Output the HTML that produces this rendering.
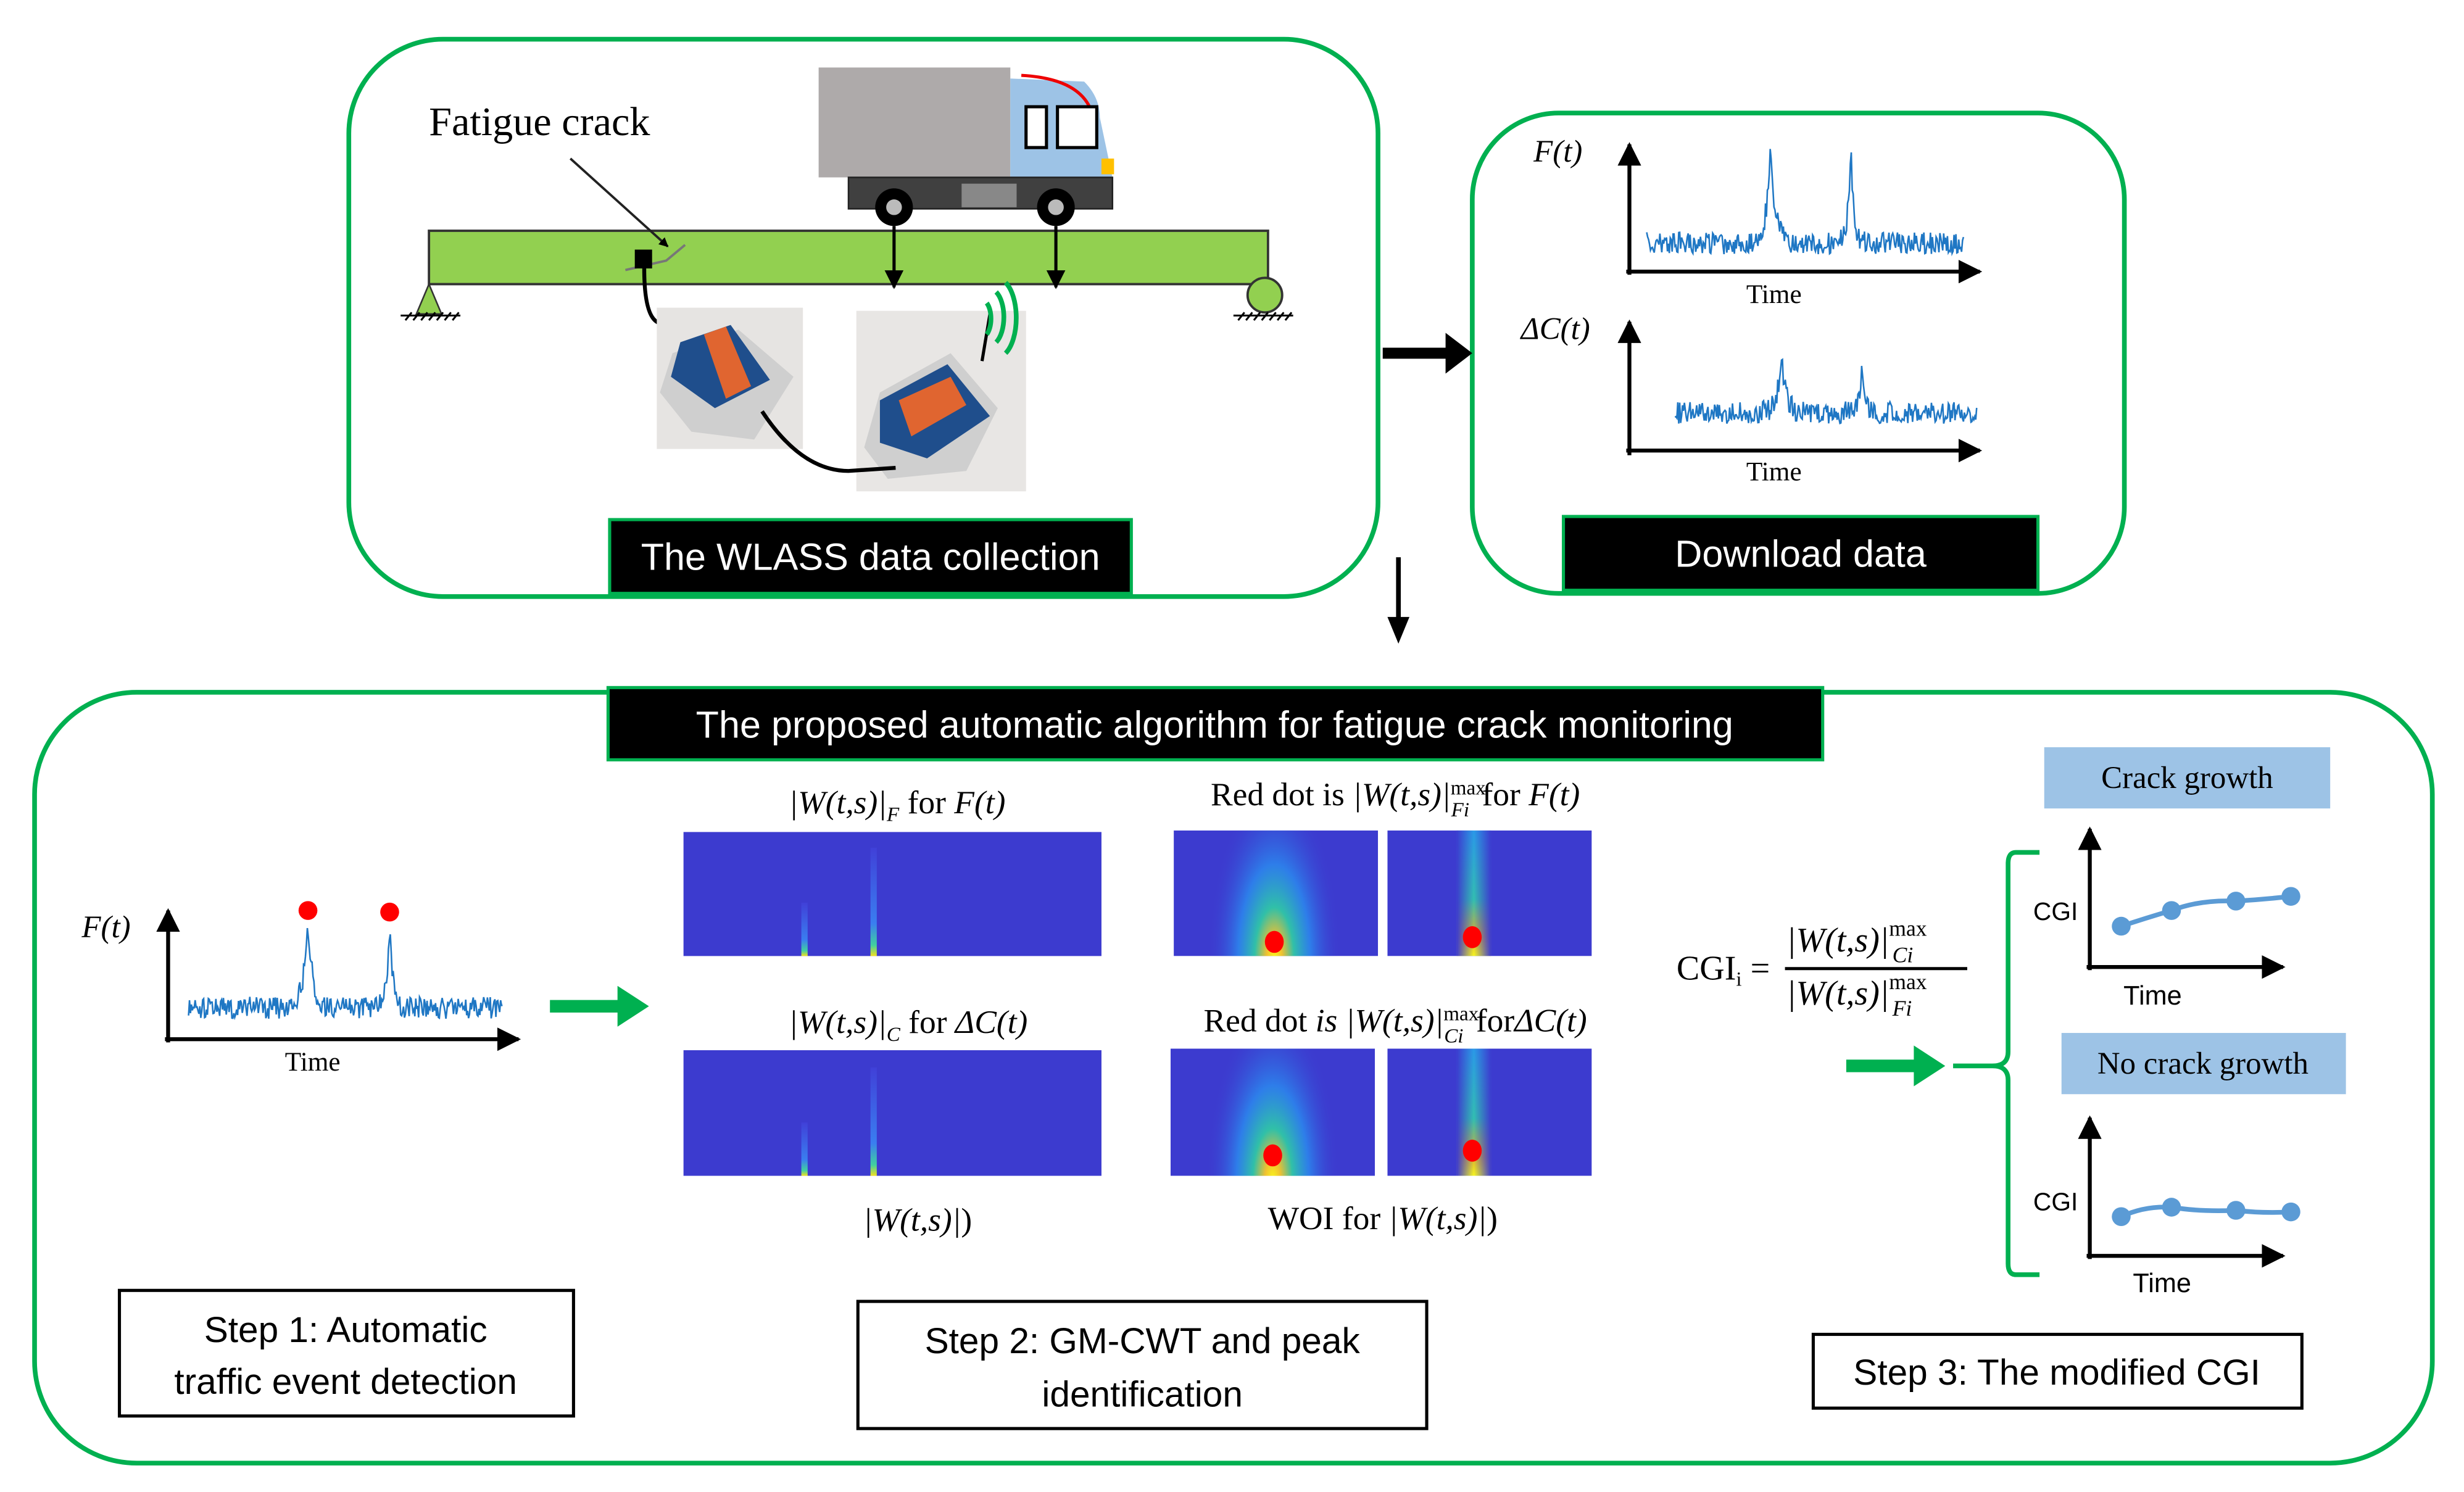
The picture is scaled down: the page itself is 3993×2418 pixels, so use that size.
<!DOCTYPE html>
<html><head><meta charset="utf-8"><style>
html,body{margin:0;padding:0;background:#fff;}
svg{display:block;}
.s{font-family:"Liberation Serif",serif;}
.a{font-family:"Liberation Sans",sans-serif;}
</style></head><body>
<svg id="g" width="3993" height="2418" viewBox="0 0 1560 945" preserveAspectRatio="none" xmlns="http://www.w3.org/2000/svg">
<defs>
<marker id="ah" viewBox="0 0 10 10" refX="9" refY="5" markerWidth="6" markerHeight="6" orient="auto"><path d="M0,0L10,5L0,10z" fill="#000"/></marker>
<marker id="ah2" viewBox="0 0 10 10" refX="9" refY="5" markerWidth="4" markerHeight="4" orient="auto"><path d="M0,0L10,5L0,10z" fill="#000"/></marker>
<radialGradient id="plume" cx="0.5" cy="0.5" r="0.5">
<stop offset="0" stop-color="#f9f81c"/><stop offset="0.12" stop-color="#f0c030"/><stop offset="0.3" stop-color="#30c0a8"/><stop offset="0.55" stop-color="#2a8ef0" stop-opacity="0.8"/><stop offset="1" stop-color="#3c3bcf" stop-opacity="0"/>
</radialGradient>
<linearGradient id="col" x1="0" y1="0" x2="0" y2="1">
<stop offset="0" stop-color="#2a9ae8"/><stop offset="0.55" stop-color="#32c0b0"/><stop offset="0.85" stop-color="#d8b030"/><stop offset="1" stop-color="#f9f81c"/>
</linearGradient>
<linearGradient id="colh" x1="0" y1="0" x2="1" y2="0">
<stop offset="0" stop-color="#3c3bcf" stop-opacity="1"/><stop offset="0.5" stop-color="#3c3bcf" stop-opacity="0"/><stop offset="1" stop-color="#3c3bcf" stop-opacity="1"/>
</linearGradient>
<linearGradient id="thin" x1="0" y1="0" x2="0" y2="1">
<stop offset="0" stop-color="#4040d8"/><stop offset="0.7" stop-color="#3a7ef0"/><stop offset="0.9" stop-color="#40d0a0"/><stop offset="1" stop-color="#f0e020"/>
</linearGradient>
</defs>
<g transform="scale(0.9948,0.9943)">
<rect x="222" y="25" width="655" height="355" rx="60" fill="none" stroke="#00b050" stroke-width="3"/>
<rect x="937" y="72" width="415" height="306" rx="55" fill="none" stroke="#00b050" stroke-width="3"/>
<rect x="22" y="441" width="1526" height="491" rx="65" fill="none" stroke="#00b050" stroke-width="3"/>

<!-- truck -->
<rect x="521" y="43" width="122" height="70" fill="#aeaaaa"/>
<path d="M643,50 L690,52 Q700,62 700,75 L708,113 L643,113Z" fill="#9dc3e6"/>
<path d="M650,48 Q688,50 695,72" fill="none" stroke="#e00" stroke-width="2"/>
<rect x="653" y="68" width="13" height="26" fill="#fff" stroke="#000" stroke-width="2"/>
<rect x="673" y="68" width="25" height="26" fill="#fff" stroke="#000" stroke-width="2"/>
<rect x="701" y="101" width="8" height="10" fill="#ffc000"/>
<rect x="540" y="113" width="168" height="20" fill="#404040" stroke="#222"/>
<rect x="612" y="117" width="35" height="15" fill="#888"/>
<circle cx="569" cy="132" r="12" fill="#000"/><circle cx="569" cy="132" r="5" fill="#bbb"/>
<circle cx="672" cy="132" r="12" fill="#000"/><circle cx="672" cy="132" r="5" fill="#bbb"/>

<!-- beam -->
<rect x="273" y="147" width="534" height="34" fill="#92d050" stroke="#333" stroke-width="1.5"/>
<path d="M273,181 L265,200 L281,200Z" fill="#92d050" stroke="#333"/>
<path d="M258,204l4,-5M263,204l4,-5M268,204l4,-5M273,204l4,-5M278,204l4,-5M283,204l4,-5M288,204l4,-5M255,201h38" stroke="#000" stroke-width="1.2"/>
<circle cx="805" cy="188" r="11" fill="#92d050" stroke="#333" stroke-width="1.5"/>
<path d="M788,204l4,-5M793,204l4,-5M798,204l4,-5M803,204l4,-5M808,204l4,-5M813,204l4,-5M818,204l4,-5M785,201h38" stroke="#000" stroke-width="1.2"/>
<line x1="569" y1="144" x2="569" y2="183" stroke="#000" stroke-width="2" marker-end="url(#ah)"/>
<line x1="672" y1="144" x2="672" y2="183" stroke="#000" stroke-width="2" marker-end="url(#ah)"/>
<text x="273" y="86" class="s" font-size="26">Fatigue crack</text>
<line x1="363" y1="101" x2="425" y2="157" stroke="#222" stroke-width="1.5" marker-end="url(#ah2)"/>
<path d="M398,172 L424,166 L436,156" fill="none" stroke="#777" stroke-width="1.5"/>
<rect x="404" y="159" width="11" height="12" fill="#000"/>
<path d="M410,171 Q410,200 418,205 Q425,210 432,212" fill="none" stroke="#000" stroke-width="2.5"/>

<!-- sensor photos -->
<rect x="418" y="196" width="93" height="90" fill="#e6e4e2"/>
<path d="M428,225 L470,210 L505,240 L480,280 L440,275 L420,250Z" fill="#cfcfcf"/>
<path d="M433,218 L465,207 L490,242 L455,260 L427,240Z" fill="#1f4e8c"/>
<path d="M448,213 L462,208 L478,246 L462,254Z" fill="#e06530"/>
<rect x="545" y="198" width="108" height="115" fill="#e8e6e4"/>
<path d="M560,250 L605,225 L635,260 L615,300 L565,305 L550,285Z" fill="#cfcfcf"/>
<path d="M560,255 L603,232 L630,265 L590,292 L560,282Z" fill="#1f4e8c"/>
<path d="M572,255 L605,240 L615,258 L580,278Z" fill="#e06530"/>
<path d="M485,262 Q510,300 540,300 L570,298" fill="none" stroke="#000" stroke-width="2.5"/>
<line x1="625" y1="230" x2="630" y2="200" stroke="#000" stroke-width="2"/>
<path d="M628,193 a6,12 0 0 1 0,20M634,186 a9,18 0 0 1 0,32M640,180 a12,25 0 0 1 0,45" fill="none" stroke="#00b050" stroke-width="3"/>

<rect x="388" y="331" width="332" height="47" fill="#000" stroke="#00b050" stroke-width="2"/>
<text x="554" y="363" class="a" font-size="24" fill="#fff" text-anchor="middle">The WLASS data collection</text>
<rect x="995" y="329" width="302" height="47" fill="#000" stroke="#00b050" stroke-width="2"/>
<text x="1146" y="361" class="a" font-size="24" fill="#fff" text-anchor="middle">Download data</text>

<line x1="880" y1="225" x2="925" y2="225" stroke="#000" stroke-width="7"/><path d="M920,212 L937,225 L920,238Z"/>
<line x1="890" y1="355" x2="890" y2="398" stroke="#000" stroke-width="3"/><path d="M883,393 L890,410 L897,393Z"/>

<!-- top-right plots -->
<line x1="1037" y1="175" x2="1037" y2="92" stroke="#000" stroke-width="2.5" marker-end="url(#ah)"/>
<line x1="1035" y1="173" x2="1260" y2="173" stroke="#000" stroke-width="2.5" marker-end="url(#ah)"/>
<text x="976" y="103" class="s" font-size="20" font-style="italic">F(t)</text>
<text x="1129" y="193" class="s" font-size="17" text-anchor="middle">Time</text>
<path id="n1" fill="none" stroke="#1f77c4" stroke-width="1"/>
<line x1="1037" y1="290" x2="1037" y2="205" stroke="#000" stroke-width="2.5" marker-end="url(#ah)"/>
<line x1="1035" y1="287" x2="1260" y2="287" stroke="#000" stroke-width="2.5" marker-end="url(#ah)"/>
<text x="968" y="216" class="s" font-size="20" font-style="italic">ΔC(t)</text>
<text x="1129" y="306" class="s" font-size="17" text-anchor="middle">Time</text>
<path id="n2" fill="none" stroke="#1f77c4" stroke-width="1"/>

<rect x="387" y="438" width="773" height="46" fill="#000" stroke="#00b050" stroke-width="2"/>
<text x="773" y="470" class="a" font-size="24" fill="#fff" text-anchor="middle">The proposed automatic algorithm for fatigue crack monitoring</text>

<!-- step1 plot -->
<line x1="107" y1="664" x2="107" y2="580" stroke="#000" stroke-width="2.5" marker-end="url(#ah)"/>
<line x1="105" y1="662" x2="330" y2="662" stroke="#000" stroke-width="2.5" marker-end="url(#ah)"/>
<text x="52" y="597" class="s" font-size="20" font-style="italic">F(t)</text>
<text x="199" y="682" class="s" font-size="17" text-anchor="middle">Time</text>
<path id="n3" fill="none" stroke="#1f77c4" stroke-width="1"/>
<circle cx="196" cy="580" r="6" fill="#f00"/><circle cx="248" cy="581" r="6" fill="#f00"/>
<line x1="350" y1="641" x2="398" y2="641" stroke="#00b050" stroke-width="8"/><path d="M393,628 L413,641 L393,654Z" fill="#00b050"/>

<!-- spectrograms -->
<rect x="435" y="530" width="266" height="79" fill="#3c3bcf"/>
<rect x="510" y="575" width="4" height="34" fill="url(#thin)"/>
<rect x="554" y="540" width="4" height="69" fill="url(#thin)"/>
<rect x="435" y="669" width="266" height="80" fill="#3c3bcf"/>
<rect x="510" y="715" width="4" height="34" fill="url(#thin)"/>
<rect x="554" y="680" width="4" height="69" fill="url(#thin)"/>

<svg x="747" y="529" width="130" height="80"><rect width="130" height="80" fill="#3c3bcf"/><ellipse cx="64" cy="82" rx="42" ry="110" fill="url(#plume)"/></svg>
<svg x="883" y="529" width="130" height="80"><rect width="130" height="80" fill="#3c3bcf"/><rect x="44" width="22" height="80" fill="url(#col)"/><rect x="44" width="22" height="80" fill="url(#colh)"/></svg>
<svg x="745" y="668" width="130" height="81"><rect width="130" height="81" fill="#3c3bcf"/><ellipse cx="65" cy="84" rx="42" ry="110" fill="url(#plume)"/></svg>
<svg x="883" y="668" width="130" height="81"><rect width="130" height="81" fill="#3c3bcf"/><rect x="44" width="22" height="81" fill="url(#col)"/><rect x="44" width="22" height="81" fill="url(#colh)"/></svg>
<ellipse cx="811" cy="600" rx="6" ry="7" fill="#f00"/>
<ellipse cx="937" cy="597" rx="6" ry="7" fill="#f00"/>
<ellipse cx="810" cy="736" rx="6" ry="7" fill="#f00"/>
<ellipse cx="937" cy="733" rx="6" ry="7" fill="#f00"/>

<text x="571" y="518" class="s" font-size="21" text-anchor="middle"><tspan font-style="italic">|W(t,s)|</tspan><tspan font-size="13" dy="5" font-style="italic">F</tspan><tspan dy="-5"> for </tspan><tspan font-style="italic">F(t)</tspan></text>
<text x="888" y="513" class="s" font-size="21" text-anchor="middle">Red dot is <tspan font-style="italic">|W(t,s)|</tspan><tspan font-size="13" dy="-7">max</tspan><tspan font-size="13" dx="-22" dy="14" font-style="italic">Fi</tspan><tspan dy="-7" dx="8">for </tspan><tspan font-style="italic">F(t)</tspan></text>
<text x="578" y="658" class="s" font-size="21" text-anchor="middle"><tspan font-style="italic">|W(t,s)|</tspan><tspan font-size="13" dy="5" font-style="italic">C</tspan><tspan dy="-5"> for </tspan><tspan font-style="italic">ΔC(t)</tspan></text>
<text x="888" y="657" class="s" font-size="21" text-anchor="middle">Red dot <tspan font-style="italic">is |W(t,s)|</tspan><tspan font-size="13" dy="-7">max</tspan><tspan font-size="13" dx="-22" dy="14" font-style="italic">Ci</tspan><tspan dy="-7" dx="8">for</tspan><tspan font-style="italic">ΔC(t)</tspan></text>
<text x="584" y="784" class="s" font-size="21" text-anchor="middle"><tspan font-style="italic">|W(t,s)|</tspan>)</text>
<text x="880" y="783" class="s" font-size="21" text-anchor="middle">WOI for <tspan font-style="italic">|W(t,s)|</tspan>)</text>

<!-- CGI formula -->
<text x="1067" y="624" class="s" font-size="22">CGI<tspan font-size="13" dy="4">i</tspan><tspan dy="-4"> =</tspan></text>
<text x="1137" y="606" class="s" font-size="22" font-style="italic">|W(t,s)|<tspan font-size="14" font-style="normal" dy="-10">max</tspan><tspan font-size="14" dx="-22" dy="17">Ci</tspan></text>
<line x1="1136" y1="617" x2="1252" y2="617" stroke="#000" stroke-width="2"/>
<text x="1137" y="640" class="s" font-size="22" font-style="italic">|W(t,s)|<tspan font-size="14" font-style="normal" dy="-10">max</tspan><tspan font-size="14" dx="-22" dy="17">Fi</tspan></text>

<line x1="1175" y1="679" x2="1222" y2="679" stroke="#00b050" stroke-width="8"/><path d="M1218,666 L1238,679 L1218,692Z" fill="#00b050"/>
<path d="M1298,543 L1283,543 Q1278,543 1278,550 L1278,670 Q1278,679 1268,679 L1243,679 M1268,679 Q1278,679 1278,688 L1278,805 Q1278,812 1283,812 L1298,812" fill="none" stroke="#00b050" stroke-width="3"/>

<rect x="1301" y="476" width="182" height="39" fill="#9dc3e6"/>
<text x="1392" y="502" class="s" font-size="20" text-anchor="middle">Crack growth</text>
<rect x="1312" y="658" width="181" height="39" fill="#9dc3e6"/>
<text x="1402" y="684" class="s" font-size="20" text-anchor="middle">No crack growth</text>

<line x1="1330" y1="618" x2="1330" y2="528" stroke="#000" stroke-width="2.5" marker-end="url(#ah)"/>
<line x1="1328" y1="616" x2="1453" y2="616" stroke="#000" stroke-width="2.5" marker-end="url(#ah)"/>
<text x="1294" y="586" class="a" font-size="16">CGI</text>
<text x="1370" y="640" class="a" font-size="17" text-anchor="middle">Time</text>
<path d="M1350,590 Q1365,585 1382,580 Q1400,573 1423,574 Q1440,573 1458,571" fill="none" stroke="#5b9bd5" stroke-width="3"/>
<g fill="#5b9bd5"><circle cx="1350" cy="590" r="6"/><circle cx="1382" cy="580" r="6"/><circle cx="1423" cy="574" r="6"/><circle cx="1458" cy="571" r="6"/></g>

<line x1="1330" y1="802" x2="1330" y2="712" stroke="#000" stroke-width="2.5" marker-end="url(#ah)"/>
<line x1="1328" y1="800" x2="1453" y2="800" stroke="#000" stroke-width="2.5" marker-end="url(#ah)"/>
<text x="1294" y="771" class="a" font-size="16">CGI</text>
<text x="1376" y="823" class="a" font-size="17" text-anchor="middle">Time</text>
<path d="M1350,775 Q1365,768 1382,769 Q1400,772 1423,771 Q1440,773 1458,772" fill="none" stroke="#5b9bd5" stroke-width="3"/>
<g fill="#5b9bd5"><circle cx="1350" cy="775" r="6"/><circle cx="1382" cy="769" r="6"/><circle cx="1423" cy="771" r="6"/><circle cx="1458" cy="772" r="6"/></g>

<rect x="76" y="822" width="289" height="80" fill="#fff" stroke="#000" stroke-width="2"/>
<text x="220" y="855" class="a" font-size="23" text-anchor="middle">Step 1: Automatic</text>
<text x="220" y="888" class="a" font-size="23" text-anchor="middle">traffic event detection</text>
<rect x="546" y="829" width="362" height="81" fill="#fff" stroke="#000" stroke-width="2"/>
<text x="727" y="862" class="a" font-size="23" text-anchor="middle">Step 2: GM-CWT and peak</text>
<text x="727" y="896" class="a" font-size="23" text-anchor="middle">identification</text>
<rect x="1154" y="850" width="311" height="47" fill="#fff" stroke="#000" stroke-width="2"/>
<text x="1309" y="882" class="a" font-size="23" text-anchor="middle">Step 3: The modified CGI</text>
</g>
</svg>
<script>
(function(){
var seed=7;function r(){seed=(seed*16807)%2147483647;return seed/2147483647;}
function sig(x0,x1,base,amp,peaks){var d="";for(var x=x0;x<=x1;x+=0.6){var y=base+(r()-0.5)*amp*2;
for(var i=0;i<peaks.length;i++){var p=peaks[i];var dx=(x-p[0])/p[2];y-=p[1]*Math.exp(-Math.abs(dx))*(1-0.1*r());}
d+=(d?"L":"M")+x.toFixed(1)+","+y.toFixed(1);}return d;}
document.getElementById("n1").setAttribute("d",sig(1048,1250,155,7,[[1127,62,3],[1178,60,2]]));
document.getElementById("n2").setAttribute("d",sig(1066,1258,263,7,[[1134,35,3],[1185,33,2]]));
document.getElementById("n3").setAttribute("d",sig(120,320,642,7,[[196,58,3],[248,58,2]]));
})();
</script>
</body></html>
